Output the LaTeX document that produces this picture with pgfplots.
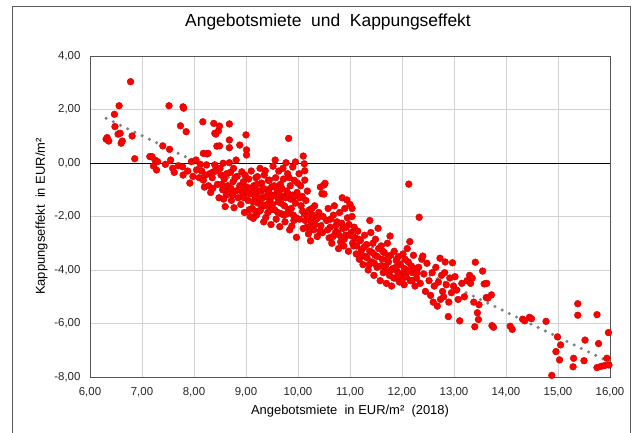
\documentclass[border=0pt]{standalone}
\usepackage{pgfplots}
\pgfplotsset{compat=1.18}
\usepackage{fontspec}
\setmainfont{Liberation Sans}
\begin{document}
\begin{tikzpicture}
\useasboundingbox (-90bp,-56bp) rectangle (546bp,377bp);
\draw[gray!70!black, line width=0.8bp] (-78bp,-60bp) -- (-78bp,371bp) -- (540bp,371bp) -- (540bp,-60bp);
\begin{axis}[
 scale only axis, width=520bp, height=321bp,
 xmin=6, xmax=16, ymin=-8, ymax=4,
 xtick={6,7,...,16}, ytick={-8,-6,...,4},
 grid=major, major grid style={gray!35, line width=0.6bp},
 axis line style={gray!65!black, line width=0.8bp},
 major tick length=0pt,
 tick label style={font=\fontsize{11.5}{13}\selectfont, text=black!85},
 /pgf/number format/fixed, /pgf/number format/fixed zerofill,
 /pgf/number format/precision=2, /pgf/number format/use comma,
 /pgf/number format/assume math mode=true,
 xticklabel style={yshift=-7bp},
 yticklabel style={xshift=-6bp},
 title={Angebotsmiete\ \ und\ \ Kappungseffekt},
 title style={font=\fontsize{17.5}{20}\selectfont, at={(0.5,1)}, anchor=center, yshift=28bp, xshift=-22bp},
 xlabel={Angebotsmiete\ \ in EUR/m²\ \ (2018)},
 ylabel={Kappungseffekt\ \ in EUR/m²},
 label style={font=\fontsize{13}{15}\selectfont},
 xlabel style={at={(0.5,0)}, anchor=center, yshift=-34bp},
 ylabel shift=0pt,
 extra y ticks={0}, extra y tick labels={},
 extra y tick style={major grid style={black, line width=0.8bp}},
 clip=false,
]
\addplot[only marks, mark=*, mark size=3.4bp, mark options={fill=red, draw=red!80!black, line width=0.4bp}] coordinates {
(6.31,0.89) (6.33,0.95) (6.36,0.82) (6.47,1.82) (6.48,1.36) (6.54,1.08) (6.56,2.14) (6.60,0.74) (6.62,0.82) (6.78,3.04) (6.81,1.01) (6.86,0.16) (6.58,1.11)
(7.15,0.24) (7.19,0.24) (7.22,-0.11) (7.25,0.11) (7.28,-0.26) (7.30,0.05) (7.40,0.64) (7.45,-0.05) (7.52,2.14) (7.53,0.51) (7.55,0.11) (7.59,-0.20) (7.62,-0.35) (7.70,-0.10) (7.74,1.39) (7.78,-0.14) (7.79,2.10) (7.80,2.05) (7.79,-0.45) (7.85,1.17) (7.88,-0.30) (7.92,-0.75) (7.95,0.05) (7.98,-0.50)
(8.04,0.11) (8.05,-0.26) (8.10,-0.55) (8.12,-0.05) (8.17,1.54) (8.18,0.36) (8.18,-0.64) (8.20,-0.90) (8.24,-0.07) (8.25,0.34) (8.27,0.36) (8.30,-0.40) (8.32,-1.10) (8.35,-0.55) (8.37,-0.33) (8.38,1.48) (8.40,1.11) (8.40,-0.07) (8.42,1.08) (8.44,0.63) (8.45,-0.80) (8.47,1.20) (8.48,-1.30) (8.49,1.38) (8.49,0.64)
(8.52,-0.45) (8.55,-1.00) (8.56,-0.01) (8.58,-0.60) (8.60,-1.63) (8.62,-1.20) (8.65,-0.85) (8.68,1.46) (8.68,0.86) (8.68,0.57) (8.68,0.01) (8.70,-0.35) (8.72,-1.40) (8.75,-0.70) (8.76,-0.20) (8.77,-1.67) (8.80,-1.05) (8.81,0.11) (8.83,-0.50) (8.85,-1.30) (8.88,0.67) (8.88,-0.85) (8.90,-1.55) (8.92,-0.33) (8.93,-1.10) (8.95,-0.70) (8.97,-1.85) (8.98,-0.45)
(9.00,1.05) (9.01,0.49) (9.01,0.30) (9.02,-0.90) (9.04,-1.40) (9.05,-0.60) (9.07,-1.15) (9.08,-2.00) (9.10,-0.30) (9.12,-1.70) (9.14,-2.07) (9.15,-0.85) (9.17,-1.25) (9.19,-0.55) (9.20,-1.95) (9.22,-0.51) (9.23,-1.50) (9.25,-1.05) (9.27,-0.20) (9.28,-1.75) (9.30,-0.75) (9.32,-1.30) (9.34,-2.20) (9.35,-0.45) (9.36,-1.60) (9.37,-0.29) (9.38,-2.04) (9.40,-1.00) (9.42,-1.85) (9.43,-0.65) (9.45,-0.64) (9.46,-1.40) (9.48,-2.30) (9.49,-0.90)
(9.52,-0.12) (9.53,-1.20) (9.55,-1.75) (9.56,0.11) (9.57,-0.55) (9.58,-2.10) (9.60,-1.00) (9.62,-1.45) (9.63,-0.30) (9.65,-2.38) (9.66,-0.80) (9.68,-1.90) (9.70,-1.25) (9.71,-0.20) (9.72,-0.60) (9.74,-1.60) (9.75,-2.20) (9.77,0.01) (9.78,-1.05) (9.80,-0.40) (9.82,0.92) (9.82,-1.75) (9.84,-2.50) (9.85,-0.85) (9.86,-1.35) (9.88,-2.36) (9.90,-0.15) (9.91,-1.95) (9.93,-0.65) (9.95,0.04) (9.95,-1.50) (9.97,-2.78) (9.98,-1.10)
(10.02,-0.40) (10.03,-2.10) (10.05,-0.85) (10.06,-1.60) (10.08,-1.25) (10.10,0.26) (10.10,-2.45) (10.12,-0.03) (10.12,-1.90) (10.13,-0.29) (10.13,-0.64) (10.15,-1.40) (10.17,-2.40) (10.18,-1.05) (10.20,-2.65) (10.22,-1.75) (10.24,-2.91) (10.25,-2.20) (10.28,-1.95) (10.30,-2.50) (10.32,-1.60) (10.35,-2.10) (10.37,-2.75) (10.40,-1.85) (10.43,-0.90) (10.44,-2.35) (10.46,-1.15) (10.47,-2.60) (10.50,-0.82) (10.50,-1.16) (10.52,-0.76)
(10.55,-2.15) (10.58,-1.70) (10.60,-2.80) (10.62,-2.40) (10.65,-3.00) (10.68,-1.95) (10.70,-1.60) (10.72,-2.60) (10.75,-2.20) (10.76,-2.60) (10.78,-3.20) (10.80,-1.85) (10.82,-2.95) (10.85,-1.30) (10.86,-2.45) (10.88,-3.10) (10.90,-1.70) (10.92,-2.70) (10.94,-1.38) (10.95,-2.05) (10.97,-3.30) (10.98,-2.30)
(11.00,-1.55) (11.02,-2.60) (11.04,-1.70) (11.04,-2.00) (11.05,-3.00) (11.07,-3.10) (11.08,-2.40) (11.10,-2.80) (11.12,-3.40) (11.15,-2.55) (11.18,-3.60) (11.20,-2.90) (11.22,-3.25) (11.25,-3.80) (11.28,-2.70) (11.30,-3.50) (11.32,-3.05) (11.35,-4.00) (11.38,-2.15) (11.38,-3.30) (11.40,-2.60) (11.42,-3.70) (11.44,-3.00) (11.46,-4.20) (11.48,-3.45) (11.49,-2.85)
(11.52,-3.90) (11.54,-2.44) (11.55,-3.20) (11.58,-4.40) (11.60,-3.10) (11.62,-3.60) (11.64,-4.10) (11.66,-3.35) (11.68,-3.85) (11.70,-4.50) (11.72,-3.00) (11.74,-3.70) (11.76,-4.20) (11.77,-2.73) (11.78,-3.45) (11.80,-4.60) (11.82,-3.95) (11.85,-3.30) (11.87,-4.30) (11.89,-3.65) (11.91,-4.05) (11.93,-3.50) (11.95,-4.45) (11.97,-3.80) (11.99,-4.15)
(12.02,-3.40) (12.04,-4.55) (12.05,-3.95) (12.08,-4.25) (12.10,-3.20) (12.12,-3.70) (12.13,-0.79) (12.15,-2.94) (12.16,-4.40) (12.18,-3.85) (12.20,-4.10) (12.22,-3.45) (12.25,-4.60) (12.28,-4.30) (12.32,-3.90) (12.33,-2.03) (12.35,-4.50) (12.38,-3.60) (12.40,-3.48) (12.42,-4.15) (12.45,-4.80) (12.48,-3.75)
(12.52,-4.40) (12.55,-4.95) (12.58,-4.10) (12.60,-5.20) (12.62,-4.60) (12.65,-3.90) (12.68,-5.35) (12.70,-4.45) (12.73,-3.56) (12.74,-5.10) (12.76,-4.20) (12.78,-4.80) (12.80,-5.00) (12.82,-4.10) (12.83,-3.70) (12.85,-4.55) (12.89,-5.74) (12.90,-5.20) (12.92,-4.30) (12.95,-4.85) (12.97,-3.73) (12.99,-4.60)
(13.02,-4.25) (13.05,-4.75) (13.08,-5.10) (13.11,-5.90) (13.15,-4.50) (13.20,-5.00) (13.25,-4.40) (13.30,-4.20) (13.32,-4.50) (13.35,-4.30) (13.38,-5.20) (13.40,-6.12) (13.41,-3.71) (13.45,-5.60) (13.47,-5.85) (13.48,-5.30)
(13.55,-4.04) (13.58,-4.52) (13.62,-5.03) (13.63,-4.50) (13.65,-5.05) (13.72,-4.93) (13.73,-6.08) (13.76,-6.14) (14.08,-6.10) (14.12,-6.22) (14.32,-5.84) (14.36,-5.90) (14.45,-5.77) (14.49,-5.82)
(14.77,-5.92) (14.88,-7.94) (14.96,-7.05) (14.99,-6.50) (15.03,-7.36) (15.05,-6.80) (15.29,-7.62) (15.30,-7.30) (15.38,-5.26) (15.38,-5.69) (15.50,-7.39) (15.52,-6.62) (15.75,-5.67) (15.75,-7.65) (15.78,-6.75) (15.83,-7.60) (15.90,-7.57) (15.94,-7.30) (15.97,-6.34) (15.98,-7.55)
(8.15,-0.30) (8.22,-0.45) (8.28,-0.85) (8.36,-0.95) (8.42,-0.30) (8.50,-0.20) (8.53,-0.80) (8.57,-1.35) (8.63,-0.40) (8.66,-1.05) (8.71,-0.95) (8.74,-1.20) (8.79,-0.55) (8.86,-1.00) (8.91,-0.90) (8.96,-1.30)
(9.03,-1.10) (9.06,-1.75) (9.09,-0.95) (9.13,-1.45) (9.16,-1.05) (9.18,-1.80) (9.21,-0.80) (9.24,-1.30) (9.26,-1.80) (9.29,-1.05) (9.31,-1.55) (9.33,-0.95) (9.39,-1.25) (9.41,-1.55) (9.44,-1.10) (9.47,-1.75) (9.50,-1.25) (9.51,-1.55)
(9.54,-0.85) (9.59,-1.25) (9.61,-1.85) (9.64,-1.15) (9.67,-1.50) (9.69,-0.95) (9.73,-1.95) (9.76,-1.30) (9.79,-1.90) (9.81,-1.15) (9.83,-0.55) (9.87,-1.70) (9.89,-1.20) (9.92,-2.15) (9.94,-1.25) (9.96,-2.05) (9.99,-0.75)
(10.04,-1.30) (10.09,-1.80) (10.14,-2.15) (10.19,-2.00) (10.23,-2.40) (10.27,-1.70) (10.33,-2.30) (10.38,-2.05) (10.42,-2.55) (10.48,-2.00)
(10.57,-2.50) (10.63,-2.10) (10.67,-2.75) (10.73,-2.35) (10.79,-2.70) (10.84,-2.25) (10.89,-2.85) (10.93,-2.40) (10.99,-2.70)
(11.06,-2.75) (11.13,-3.10) (11.17,-2.85) (11.23,-3.45) (11.27,-3.15) (11.33,-3.55) (11.37,-3.80) (11.43,-3.35) (11.47,-3.75) (11.53,-3.50) (11.59,-3.85) (11.63,-3.30) (11.67,-4.05) (11.73,-3.55) (11.79,-4.00) (11.84,-4.30) (11.88,-3.90) (11.94,-4.20) (12.00,-4.40) (12.06,-3.60) (12.11,-4.05) (12.19,-4.40) (12.24,-3.95) (12.29,-4.10)
};
\addplot[black!50, line width=3.4bp, line cap=round, dash pattern=on 0pt off 8bp] coordinates {(6.31,1.67) (16.0,-7.45)};
\end{axis}
\end{tikzpicture}
\end{document}
